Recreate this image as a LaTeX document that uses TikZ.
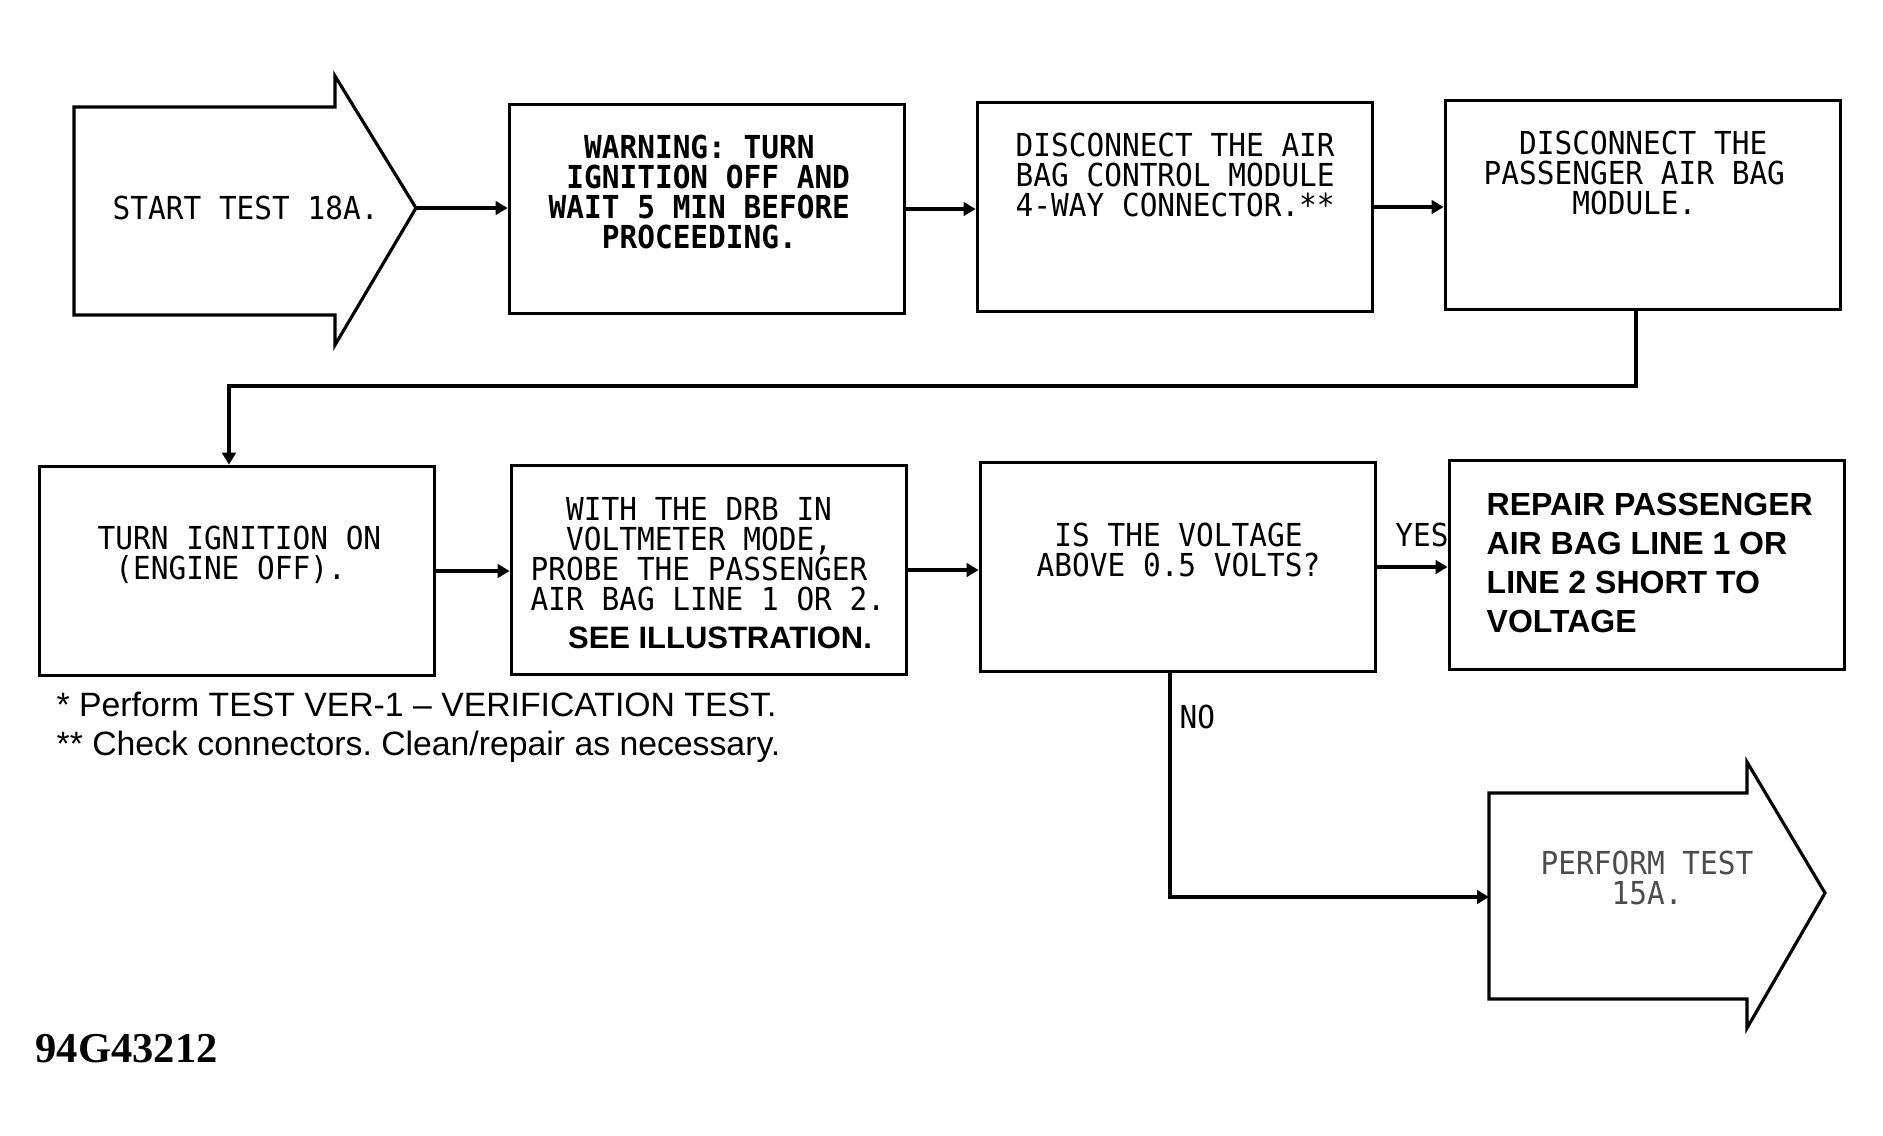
\documentclass[tikz,border=0pt]{standalone}
\usepackage{fontspec}
\setmainfont{Liberation Sans}
\newfontfamily\plotfont[FakeStretch=0.93]{DejaVu Sans Mono}
\newfontfamily\tagfont{Liberation Serif}
\usetikzlibrary{arrows.meta}
\frenchspacing
\def\pad{\hphantom{0}}
\tikzset{
	stepbox/.style={draw, line width=1pt, minimum width=3.95cm, minimum height=2.09cm, inner sep=0pt},
	plottext/.style={font=\plotfont\fontsize{9}{8.5}\selectfont, align=left, anchor=west, inner sep=0pt},
	flow/.style={line width=0.9pt, -{Triangle[length=3.4pt,width=3.8pt]}},
}

\begin{document}
\begin{tikzpicture}[x=0.01cm, y=-0.01cm]
			%%%%% START %%%%%
			\useasboundingbox (0, 0) rectangle (1883, 1135);
			
			% start arrow
			\draw[line width=0.9pt] (74, 107) -- (335, 107) -- (335, 76) -- (416, 208) -- (335, 345) -- (335, 315) -- (74, 315) -- cycle;
			\coordinate (starttip) at (416, 208);
			\node[plottext] (starttxt) at (112, 208) {START TEST 18A.};
			
			% top row
			\node[stepbox] (warn) at (707, 209) {};
			\node[plottext, font=\plotfont\bfseries\fontsize{9}{8.5}\selectfont] (warntxt) at (548, 192) {\pad\pad WARNING: TURN\\\pad IGNITION OFF AND\\WAIT 5 MIN BEFORE\\\pad\pad\pad PROCEEDING.};
			
			\node[stepbox] (disc1) at (1175, 207) {};
			\node[plottext] (disc1txt) at (1015, 175) {DISCONNECT THE AIR\\BAG CONTROL MODULE\\4-WAY CONNECTOR.**};
			
			\node[stepbox] (disc2) at (1643, 205) {};
			\node[plottext] (disc2txt) at (1483, 173) {\pad\pad DISCONNECT THE\\PASSENGER AIR BAG\\\pad\pad\pad\pad\pad MODULE.};
			
			% second row
			\node[stepbox] (ign) at (237, 571) {};
			\node[plottext] (igntxt) at (97, 555) {TURN IGNITION ON\\\pad (ENGINE OFF).};
			
			\node[stepbox] (probe) at (709, 570) {};
			\node[plottext] (probetxt) at (530, 554) {\pad\pad WITH THE DRB IN\\\pad\pad VOLTMETER MODE,\\PROBE THE PASSENGER\\AIR BAG LINE 1 OR 2.};
			\node[font=\bfseries\fontsize{8.8}{10}\selectfont, inner sep=0pt] (seetxt) at (720, 638) {SEE ILLUSTRATION.};
			
			\node[stepbox] (volt) at (1178, 567) {};
			\node[plottext] (volttxt) at (1036, 550) {\pad IS THE VOLTAGE\\ABOVE 0.5 VOLTS?};
			
			\node[stepbox] (repair) at (1647, 565) {};
			\node[font=\bfseries\fontsize{9.1}{11.1}\selectfont, align=left, anchor=west, inner sep=0pt] (repairtxt) at (1486, 563) {REPAIR PASSENGER\\AIR BAG LINE 1 OR\\LINE 2 SHORT TO\\VOLTAGE};
			
			% perform arrow
			\draw[line width=0.9pt] (1489, 793) -- (1747, 793) -- (1747, 762) -- (1825, 893) -- (1747, 1028) -- (1747, 999) -- (1489, 999) -- cycle;
			\coordinate (perfin) at (1489, 897);
			\node[plottext, text=black!70] (perftxt) at (1540, 878) {PERFORM TEST\\\pad\pad\pad\pad 15A.};
			
			% connectors
			\draw[flow] (starttip) -- (starttip -| warn.west);
			\draw[flow] (warn.east) -- (warn.east -| disc1.west);
			\draw[flow] (disc1.east) -- (disc1.east -| disc2.west);
			\coordinate (turn1) at (1636, 386);
			\coordinate (turn2) at (229, 386);
			\draw[flow] (turn1 |- disc2.south) -- (turn1) -- (turn2) -- (turn2 |- ign.north);
			\draw[flow] (ign.east) -- (ign.east -| probe.west);
			\draw[flow] (probe.east) -- (probe.east -| volt.west);
			\draw[flow] (volt.east) -- (volt.east -| repair.west);
			\coordinate (noturn) at (1170, 897);
			\draw[flow] (noturn |- volt.south) -- (noturn) -- (perfin);
			
			\node[plottext, anchor=center] (yes) at (1422, 535) {YES};
			\node[plottext] (no) at (1179, 717) {NO};
			
			% notes
			\node[font=\fontsize{9.6}{11.1}\selectfont, align=left, anchor=west, inner sep=0pt] (notes) at (56, 727) {* Perform TEST VER-1 -- VERIFICATION TEST.\\** Check connectors. Clean/repair as necessary.};
			\node[font=\tagfont\bfseries\fontsize{12.1}{13}\selectfont, anchor=west, inner sep=0pt] (tag) at (35, 1049) {94G43212};
			
			%%%%% END %%%%%
\end{tikzpicture}
\end{document}
